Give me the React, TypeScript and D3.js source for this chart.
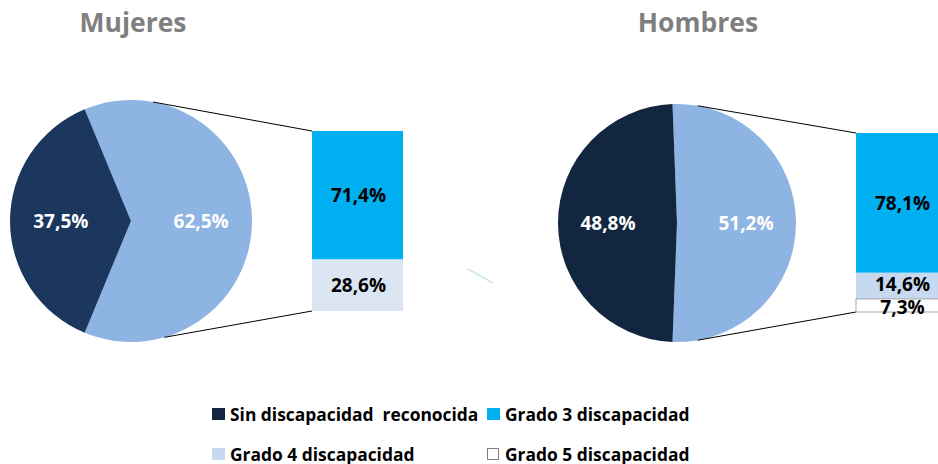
import React from "react";
import * as d3 from "d3";

const pieCategories = ["Sin discapacidad reconocida", "Con discapacidad"];
const mujeresPie = [37.5, 62.5];
const hombresPie = [48.8, 51.2];
const barCategories = ["Grado 3 discapacidad", "Grado 4 discapacidad", "Grado 5 discapacidad"];
const mujeresBar = [71.4, 28.6];
const hombresBar = [78.1, 14.6, 7.3];
const titles = ["Mujeres", "Hombres"];
const legendLabels = ["Sin discapacidad  reconocida", barCategories[0], barCategories[1], barCategories[2]];

const W = 938;
const H = 464;
const FONT = "'Open Sans', 'Noto Sans', sans-serif";
const fmt = (v: number) => v.toFixed(1).replace(".", ",") + "%";

const barFills = ["#00b0f0", "#dbe5f1", "#ffffff"];

type PanelProps = {
  title: string;
  pieVals: number[];
  barVals: number[];
  cx: number;
  cy: number;
  r: number;
  darkColor: string;
  barX: number;
  barW: number;
  barTop: number;
  barBottom: number;
  titleX: number;
  topAngle: number;
  bottomAngle: number;
  grade4Color: string;
};

function Panel(p: PanelProps) {
  const data = [
    { key: pieCategories[1], value: p.pieVals[1], color: "#8eb4e3" },
    { key: pieCategories[0], value: p.pieVals[0], color: p.darkColor },
  ];
  const total = d3.sum(data, (d) => d.value);
  const start = Math.PI / 2 - (p.pieVals[1] / total) * Math.PI;
  const pie = d3
    .pie<any>()
    .sort(null)
    .value((d) => d.value)
    .startAngle(start)
    .endAngle(start + 2 * Math.PI);
  const arcs = pie(data);
  const arc = d3.arc<any>().innerRadius(0).outerRadius(p.r);
  const labelArc = d3.arc<any>().innerRadius(p.r * 0.58).outerRadius(p.r * 0.58);

  const y = d3.scaleLinear().domain([0, 100]).range([p.barTop, p.barBottom]);
  let acc = 0;
  const segs = p.barVals.map((v, i) => {
    const s = { v, i, y0: y(acc), y1: y(acc + v) };
    acc += v;
    return s;
  });
  const small = segs.length > 2;

  const pt = (a: number) => [p.cx + p.r * Math.sin(a), p.cy - p.r * Math.cos(a)];
  const topPt = pt((p.topAngle * Math.PI) / 180);
  const botPt = pt((p.bottomAngle * Math.PI) / 180);

  return (
    <g>
      <text
        x={p.titleX}
        y={32}
        textAnchor="middle"
        fontFamily={FONT}
        fontWeight={700}
        fontSize={26.5}
        fill="#7f7f7f"
      >
        {p.title}
      </text>
      {arcs.map((a, i) => (
        <path key={i} d={arc(a) as string} transform={`translate(${p.cx},${p.cy})`} fill={a.data.color} />
      ))}
      {arcs.map((a, i) => {
        const [lx, ly] = labelArc.centroid(a);
        return (
          <text
            key={"l" + i}
            x={p.cx + lx}
            y={p.cy + ly}
            textAnchor="middle"
            dominantBaseline="central"
            fontFamily={FONT}
            fontWeight={700}
            fontSize={19}
            fill="#ffffff"
          >
            {fmt(a.data.value)}
          </text>
        );
      })}
      <line x1={topPt[0]} y1={topPt[1]} x2={p.barX} y2={p.barTop} stroke="#000" strokeWidth={1} />
      <line x1={botPt[0]} y1={botPt[1]} x2={p.barX} y2={p.barBottom} stroke="#000" strokeWidth={1} />
      {segs.map((s) => (
        <rect
          key={"r" + s.i}
          x={p.barX}
          y={s.y0}
          width={p.barW}
          height={s.y1 - s.y0}
          fill={s.i === 1 ? p.grade4Color : barFills[s.i]}
          stroke={s.i === 2 ? "#a6a6a6" : "none"}
          strokeWidth={1}
        />
      ))}
      {segs.map((s) => (
        <text
          key={"t" + s.i}
          x={p.barX + p.barW / 2 + 1}
          y={(s.y0 + s.y1) / 2 + (s.i === 2 ? 2 : small && s.i === 1 ? -2 : 0)}
          textAnchor="middle"
          dominantBaseline="central"
          fontFamily={FONT}
          fontWeight={700}
          fontSize={19}
          fill="#000000"
        >
          {fmt(s.v)}
        </text>
      ))}
    </g>
  );
}

export default function App() {
  const legend = [
    { label: legendLabels[0], color: "#14253f", stroke: "none", x: 212, y: 408 },
    { label: legendLabels[1], color: "#00b0f0", stroke: "none", x: 487, y: 408 },
    { label: legendLabels[2], color: "#c6d9f1", stroke: "none", x: 212, y: 448 },
    { label: legendLabels[3], color: "#ffffff", stroke: "#7f7f7f", x: 487, y: 448 },
  ];
  return (
    <svg
      width={W}
      height={H}
      style={{ position: "absolute", left: 0, top: 0, background: "#fff" }}
    >
      <Panel
        title={titles[0]}
        pieVals={mujeresPie}
        barVals={mujeresBar}
        cx={131}
        cy={221}
        r={121}
        darkColor="#1b375e"
        barX={312}
        barW={91}
        barTop={131}
        barBottom={311}
        titleX={133}
        topAngle={10.5}
        bottomAngle={164}
        grade4Color="#dce6f2"
      />
      <Panel
        title={titles[1]}
        pieVals={hombresPie}
        barVals={hombresBar}
        cx={677}
        cy={223}
        r={119}
        darkColor="#132640"
        barX={856}
        barW={91}
        barTop={133}
        barBottom={312}
        titleX={698}
        topAngle={10}
        bottomAngle={170}
        grade4Color="#c6d9f1"
      />
      <line x1={468} y1={269} x2={493} y2={283} stroke="#cde9ec" strokeWidth={1.5} />
      {legend.map((l, i) => (
        <g key={i}>
          <rect
            x={l.x + (l.stroke !== "none" ? 0.5 : 0)}
            y={l.y + (l.stroke !== "none" ? 0.5 : 0)}
            width={l.stroke !== "none" ? 11 : 13}
            height={l.stroke !== "none" ? 11 : 12}
            fill={l.color}
            stroke={l.stroke}
          />
          <text
            x={l.x + 18}
            y={l.y + 13}
            fontFamily={FONT}
            fontWeight={700}
            fontSize={17.4}
            fill="#000"
            style={{ whiteSpace: "pre" }}
          >
            {l.label}
          </text>
        </g>
      ))}
    </svg>
  );
}
